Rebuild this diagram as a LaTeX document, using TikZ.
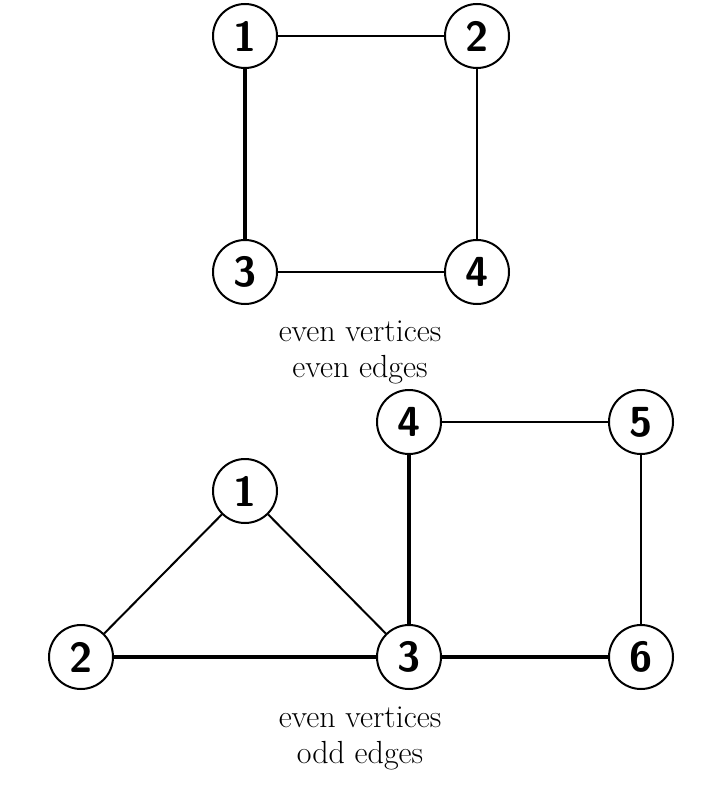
\documentclass[tikz,border=0pt]{standalone}
\begin{document}
\begin{tikzpicture}[x=0.5pt,y=-0.5pt,
  vtx/.style={circle,draw,line width=1pt,minimum size=32pt,inner sep=0pt,fill=white,
    font=\fontsize{21}{24}\selectfont\sffamily\bfseries},
  thinedge/.style={line width=0.75pt},
  midedge/.style={line width=1pt},
  thickedge/.style={line width=1.7pt},
  lbl/.style={anchor=base,inner sep=0pt,font=\fontsize{16}{18}\selectfont}]
\useasboundingbox (0,0) rectangle (720,796);
% top graph
\node[vtx] (a1) at (245,36) {1};
\node[vtx] (a2) at (477,36) {2};
\node[vtx] (a3) at (245,272) {3};
\node[vtx] (a4) at (477,272) {4};
\draw[thinedge] (a1) -- (a2);
\draw[thinedge] (a2) -- (a4);
\draw[thinedge] (a3) -- (a4);
\draw[thickedge] (a1) -- (a3);
\node[lbl] (t1) at (360,341) {even vertices};
\node[lbl] (t2) at (360,377) {even edges};
% bottom graph
\node[vtx] (b4) at (409,422) {4};
\node[vtx] (b5) at (641,422) {5};
\node[vtx] (b1) at (245,491) {1};
\node[vtx] (b2) at (81,657) {2};
\node[vtx] (b3) at (409,657) {3};
\node[vtx] (b6) at (641,657) {6};
\draw[thinedge] (b4) -- (b5);
\draw[thinedge] (b5) -- (b6);
\draw[midedge] (b1) -- (b2);
\draw[midedge] (b1) -- (b3);
\draw[thickedge] (b4) -- (b3);
\draw[thickedge] (b2) -- (b3);
\draw[thickedge] (b3) -- (b6);
\node[lbl] (t3) at (360,727) {even vertices};
\node[lbl] (t4) at (360,763) {odd edges};
\end{tikzpicture}
\end{document}
